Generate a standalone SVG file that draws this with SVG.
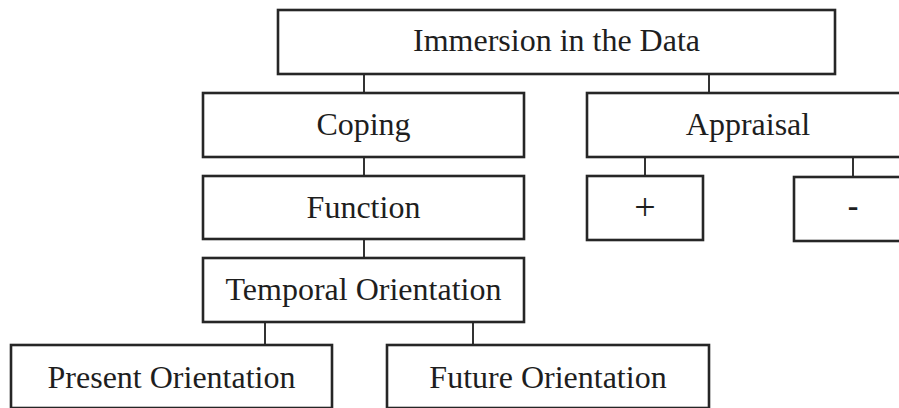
<svg xmlns="http://www.w3.org/2000/svg" width="899" height="408" viewBox="0 0 899 408">
  <style>
    .box { fill: #ffffff; stroke: #262626; stroke-width: 2.6; }
    .lbl { font-family: "Liberation Serif", "Times New Roman", serif; font-size: 32px; fill: #1e1e1e; text-anchor: middle; }
    .conn line { stroke: #333333; stroke-width: 2; }
  </style>
  <rect width="899" height="408" fill="#ffffff"/>

  <!-- connectors -->
  <g id="connectors" class="conn">
    <line x1="364" y1="74" x2="364" y2="93"/>
    <line x1="709" y1="74" x2="709" y2="93"/>
    <line x1="364" y1="157" x2="364" y2="176"/>
    <line x1="364" y1="239" x2="364" y2="258"/>
    <line x1="265" y1="322" x2="265" y2="345"/>
    <line x1="473" y1="322" x2="473" y2="345"/>
    <line x1="645" y1="157" x2="645" y2="176"/>
    <line x1="853" y1="157" x2="853" y2="177"/>
  </g>

  <g id="immersion">
    <rect class="box" x="278" y="10" width="557" height="64"/>
    <text class="lbl" x="556.5" y="51">Immersion in the Data</text>
  </g>

  <g id="coping">
    <rect class="box" x="203" y="93" width="321" height="64"/>
    <text class="lbl" x="363.5" y="135">Coping</text>
  </g>

  <g id="appraisal">
    <rect class="box" x="587" y="93" width="323" height="64"/>
    <text class="lbl" x="748" y="135">Appraisal</text>
  </g>

  <g id="function">
    <rect class="box" x="203" y="176" width="321" height="63"/>
    <text class="lbl" x="363.5" y="218">Function</text>
  </g>

  <g id="positive">
    <rect class="box" x="587" y="176" width="116" height="64"/>
    <text class="lbl" x="645" y="220" style="font-size:38px">+</text>
  </g>

  <g id="negative">
    <rect class="box" x="794" y="177" width="118" height="64"/>
    <text class="lbl" x="853" y="216" style="font-weight:bold">-</text>
  </g>

  <g id="temporal">
    <rect class="box" x="203" y="258" width="321" height="64"/>
    <text class="lbl" x="363.5" y="300">Temporal Orientation</text>
  </g>

  <g id="present">
    <rect class="box" x="11" y="345" width="321" height="63"/>
    <text class="lbl" x="171.5" y="388">Present Orientation</text>
  </g>

  <g id="future">
    <rect class="box" x="387" y="345" width="322" height="63"/>
    <text class="lbl" x="548" y="388">Future Orientation</text>
  </g>
</svg>
